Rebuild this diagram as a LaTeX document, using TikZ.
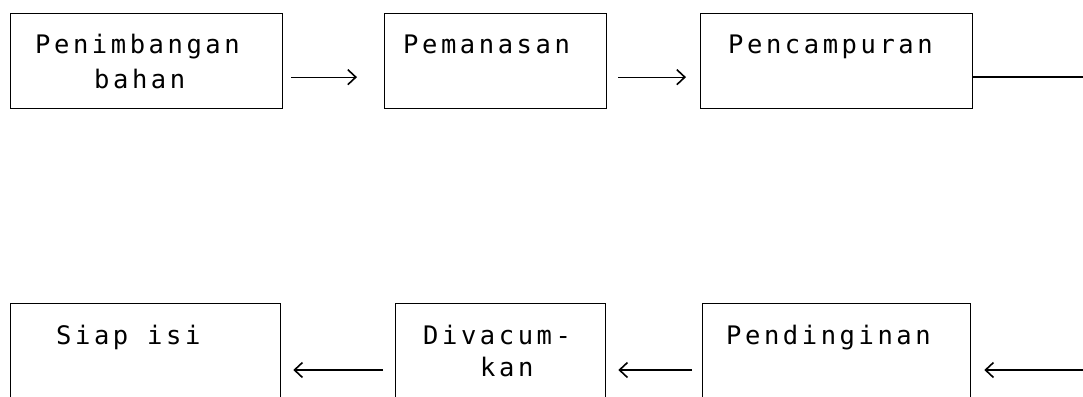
\documentclass[tikz,border=0pt]{standalone}
\usepackage{fontspec}
\newfontfamily\dm[LetterSpace=14]{DejaVu Sans Mono}
\usetikzlibrary{arrows.meta}
\begin{document}
\begin{tikzpicture}[x=1pt,y=-1pt,
  box/.style={draw, line width=1.3pt, inner sep=0pt, anchor=north west},
  topbox/.style={box, minimum height=95pt},
  botbox/.style={box, minimum height=130pt},
  lbl/.style={font=\dm\fontsize{25.5}{34}\selectfont, anchor=base west, inner sep=0pt},
  arr/.style={line width=1.3pt, -{Straight Barb[length=8pt,width=15pt,line width=1.6pt]}},
  link/.style={line width=1.3pt}]
\useasboundingbox (0,0) rectangle (1083,396);
\clip (0,0) rectangle (1083,396);
% top row
\node[topbox, minimum width=272pt] (b1) at (10,13) {};
\node[topbox, minimum width=222pt] (b2) at (384,13) {};
\node[topbox, minimum width=272pt] (b3) at (700,13) {};
% bottom row
\node[botbox, minimum width=270pt] (b4) at (10,303) {};
\node[botbox, minimum width=210pt] (b5) at (395,303) {};
\node[botbox, minimum width=268pt] (b6) at (702,303) {};
% texts
\node[lbl] (t1a) at ([shift={(25,40)}]b1.north west) {Penimbangan};
\node[lbl] (t1b) at ([shift={(84,75)}]b1.north west) {bahan};
\node[lbl] (t2) at ([shift={(19,40)}]b2.north west) {Pemanasan};
\node[lbl] (t3) at ([shift={(28,40)}]b3.north west) {Pencampuran};
\node[lbl] (t4) at ([shift={(46,41)}]b4.north west) {Siap isi};
\node[lbl] (t5a) at ([shift={(28,41)}]b5.north west) {Divacum-};
\node[lbl] (t5b) at ([shift={(85,73)}]b5.north west) {kan};
\node[lbl] (t6) at ([shift={(24,41)}]b6.north west) {Pendinginan};
% connectors
\coordinate (e3) at (1083,77);
\coordinate (e6) at (1083,370);
\draw[arr, shorten <=8pt, shorten >=27pt] ([yshift=-16pt]b1.east) -- ([yshift=-16pt]b2.west);
\draw[arr, shorten <=11pt, shorten >=14pt] ([yshift=-16pt]b2.east) -- ([yshift=-16pt]b3.west);
\draw[link] (b3.east |- e3) -- (e3);
\draw[arr, shorten >=13pt] (e6) -- (b6.east |- e6);
\draw[arr, shorten <=10pt, shorten >=12pt] (b6.west |- e6) -- (b5.east |- e6);
\draw[arr, shorten <=12pt, shorten >=12pt] (b5.west |- e6) -- (b4.east |- e6);
\end{tikzpicture}
\end{document}
